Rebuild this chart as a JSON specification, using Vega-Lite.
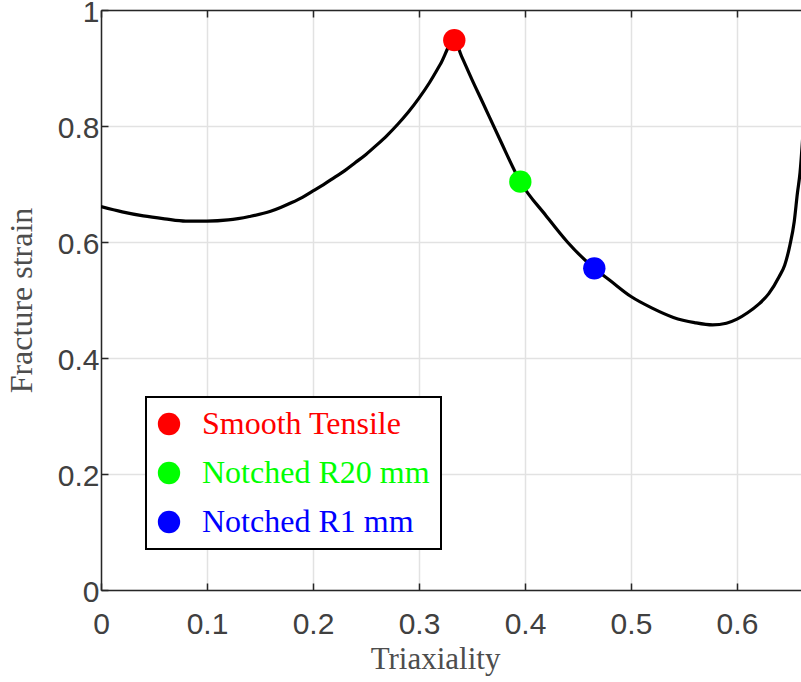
{
  "$schema": "https://vega.github.io/schema/vega-lite/v6.json",
  "width": 700,
  "height": 580,
  "autosize": {"type": "none"},
  "padding": {"left": 101, "top": 10, "right": 0, "bottom": 92},
  "background": "white",
  "config": {
    "view": {"stroke": null},
    "axis": {
      "domainColor": "#262626",
      "domainWidth": 1.5,
      "tickColor": "#262626",
      "tickWidth": 1.5,
      "tickSize": -7,
      "gridColor": "#e2e2e2",
      "gridWidth": 1.5,
      "labelFlush": false,
      "labelFont": "Liberation Sans",
      "labelFontSize": 30,
      "labelColor": "#404040",
      "titleFont": "Liberation Serif",
      "titleFontSize": 31,
      "titleFontWeight": "normal",
      "titleColor": "#4d4d4d"
    },
    "legend": {"strokeWidth": 2}
  },
  "layer": [
    {
      "data": {
        "values": [
          {"triaxiality": 0.0, "strain": 0.661},
          {"triaxiality": 0.02, "strain": 0.652},
          {"triaxiality": 0.04, "strain": 0.645},
          {"triaxiality": 0.06, "strain": 0.640},
          {"triaxiality": 0.08, "strain": 0.636},
          {"triaxiality": 0.10, "strain": 0.636},
          {"triaxiality": 0.12, "strain": 0.638},
          {"triaxiality": 0.14, "strain": 0.644},
          {"triaxiality": 0.16, "strain": 0.653},
          {"triaxiality": 0.17, "strain": 0.660},
          {"triaxiality": 0.18, "strain": 0.668},
          {"triaxiality": 0.19, "strain": 0.677},
          {"triaxiality": 0.20, "strain": 0.688},
          {"triaxiality": 0.21, "strain": 0.699},
          {"triaxiality": 0.22, "strain": 0.711},
          {"triaxiality": 0.23, "strain": 0.723},
          {"triaxiality": 0.24, "strain": 0.737},
          {"triaxiality": 0.25, "strain": 0.751},
          {"triaxiality": 0.26, "strain": 0.767},
          {"triaxiality": 0.27, "strain": 0.784},
          {"triaxiality": 0.28, "strain": 0.803},
          {"triaxiality": 0.29, "strain": 0.824},
          {"triaxiality": 0.30, "strain": 0.848},
          {"triaxiality": 0.31, "strain": 0.875},
          {"triaxiality": 0.32, "strain": 0.906},
          {"triaxiality": 0.3333, "strain": 0.948},
          {"triaxiality": 0.34, "strain": 0.921},
          {"triaxiality": 0.35, "strain": 0.880},
          {"triaxiality": 0.36, "strain": 0.841},
          {"triaxiality": 0.376, "strain": 0.778},
          {"triaxiality": 0.3956, "strain": 0.704},
          {"triaxiality": 0.42, "strain": 0.645},
          {"triaxiality": 0.44, "strain": 0.600},
          {"triaxiality": 0.4654, "strain": 0.5546},
          {"triaxiality": 0.48, "strain": 0.534},
          {"triaxiality": 0.50, "strain": 0.506},
          {"triaxiality": 0.52, "strain": 0.486},
          {"triaxiality": 0.54, "strain": 0.470},
          {"triaxiality": 0.56, "strain": 0.461},
          {"triaxiality": 0.577, "strain": 0.457},
          {"triaxiality": 0.59, "strain": 0.460},
          {"triaxiality": 0.60, "strain": 0.467},
          {"triaxiality": 0.61, "strain": 0.478},
          {"triaxiality": 0.62, "strain": 0.492},
          {"triaxiality": 0.63, "strain": 0.511},
          {"triaxiality": 0.64, "strain": 0.541},
          {"triaxiality": 0.645, "strain": 0.560},
          {"triaxiality": 0.65, "strain": 0.595},
          {"triaxiality": 0.654, "strain": 0.635},
          {"triaxiality": 0.657, "strain": 0.684},
          {"triaxiality": 0.6595, "strain": 0.720},
          {"triaxiality": 0.662, "strain": 0.780}
        ]
      },
      "mark": {"type": "line", "color": "black", "strokeWidth": 3.2, "interpolate": "monotone", "clip": true},
      "encoding": {
        "x": {
          "field": "triaxiality", "type": "quantitative",
          "scale": {"domain": [0, 0.6604], "nice": false, "zero": false},
          "axis": {
            "orient": "bottom",
            "values": [0, 0.1, 0.2, 0.3, 0.4, 0.5, 0.6],
            "format": ".1~f",
            "labelPadding": 26,
            "title": "Triaxiality",
            "titleX": 334,
            "titleY": 78,
            "titleBaseline": "alphabetic",
            "grid": true
          }
        },
        "y": {
          "field": "strain", "type": "quantitative",
          "scale": {"domain": [0, 1], "nice": false},
          "axis": {
            "values": [0, 0.2, 0.4, 0.6, 0.8, 1],
            "format": "~g",
            "labelPadding": 9,
            "labelOffset": 2,
            "title": "Fracture strain",
            "titleX": -70,
            "titleFontSize": 32,
            "titleBaseline": "alphabetic",
            "grid": true
          }
        }
      }
    },
    {
      "data": {
        "values": [
          {"triaxiality": 0.3333, "strain": 0.948, "specimen": "Smooth Tensile"},
          {"triaxiality": 0.3956, "strain": 0.704, "specimen": "Notched R20 mm"},
          {"triaxiality": 0.4654, "strain": 0.5546, "specimen": "Notched R1 mm"}
        ]
      },
      "mark": {"type": "point", "filled": true, "size": 500, "opacity": 1, "strokeWidth": 0},
      "encoding": {
        "x": {
          "field": "triaxiality", "type": "quantitative",
          "axis": {
            "orient": "top",
            "values": [0, 0.1, 0.2, 0.3, 0.4, 0.5, 0.6],
            "labels": false,
            "grid": false,
            "title": null
          }
        },
        "y": {
          "field": "strain", "type": "quantitative",
          "axis": {
            "values": [0, 0.2, 0.4, 0.6, 0.8, 1],
            "format": "~g",
            "labelPadding": 9,
            "labelOffset": 2,
            "title": "Fracture strain",
            "titleX": -70,
            "titleFontSize": 32,
            "titleBaseline": "alphabetic",
            "grid": true
          }
        },
        "color": {
          "field": "specimen", "type": "nominal",
          "scale": {
            "domain": ["Smooth Tensile", "Notched R20 mm", "Notched R1 mm"],
            "range": ["#ff0000", "#00ff00", "#0000ff"]
          },
          "legend": {
            "title": null,
            "orient": "none",
            "legendX": 45,
            "legendY": 387,
            "symbolType": "circle",
            "symbolSize": 500,
            "symbolStrokeWidth": 0,
            "symbolOffset": -4,
            "labelFont": "Liberation Serif",
            "labelFontSize": 32,
            "labelOffset": 17,
            "labelLimit": 500,
            "labelColor": {"expr": "scale('color', datum.value)"},
            "rowPadding": 17,
            "padding": 11,
            "strokeColor": "black",
            "fillColor": "white",
            "labelExpr": "datum.label + '\u2003\u2003\u2003'"
          }
        }
      }
    }
  ],
  "resolve": {"axis": {"x": "independent"}}
}
